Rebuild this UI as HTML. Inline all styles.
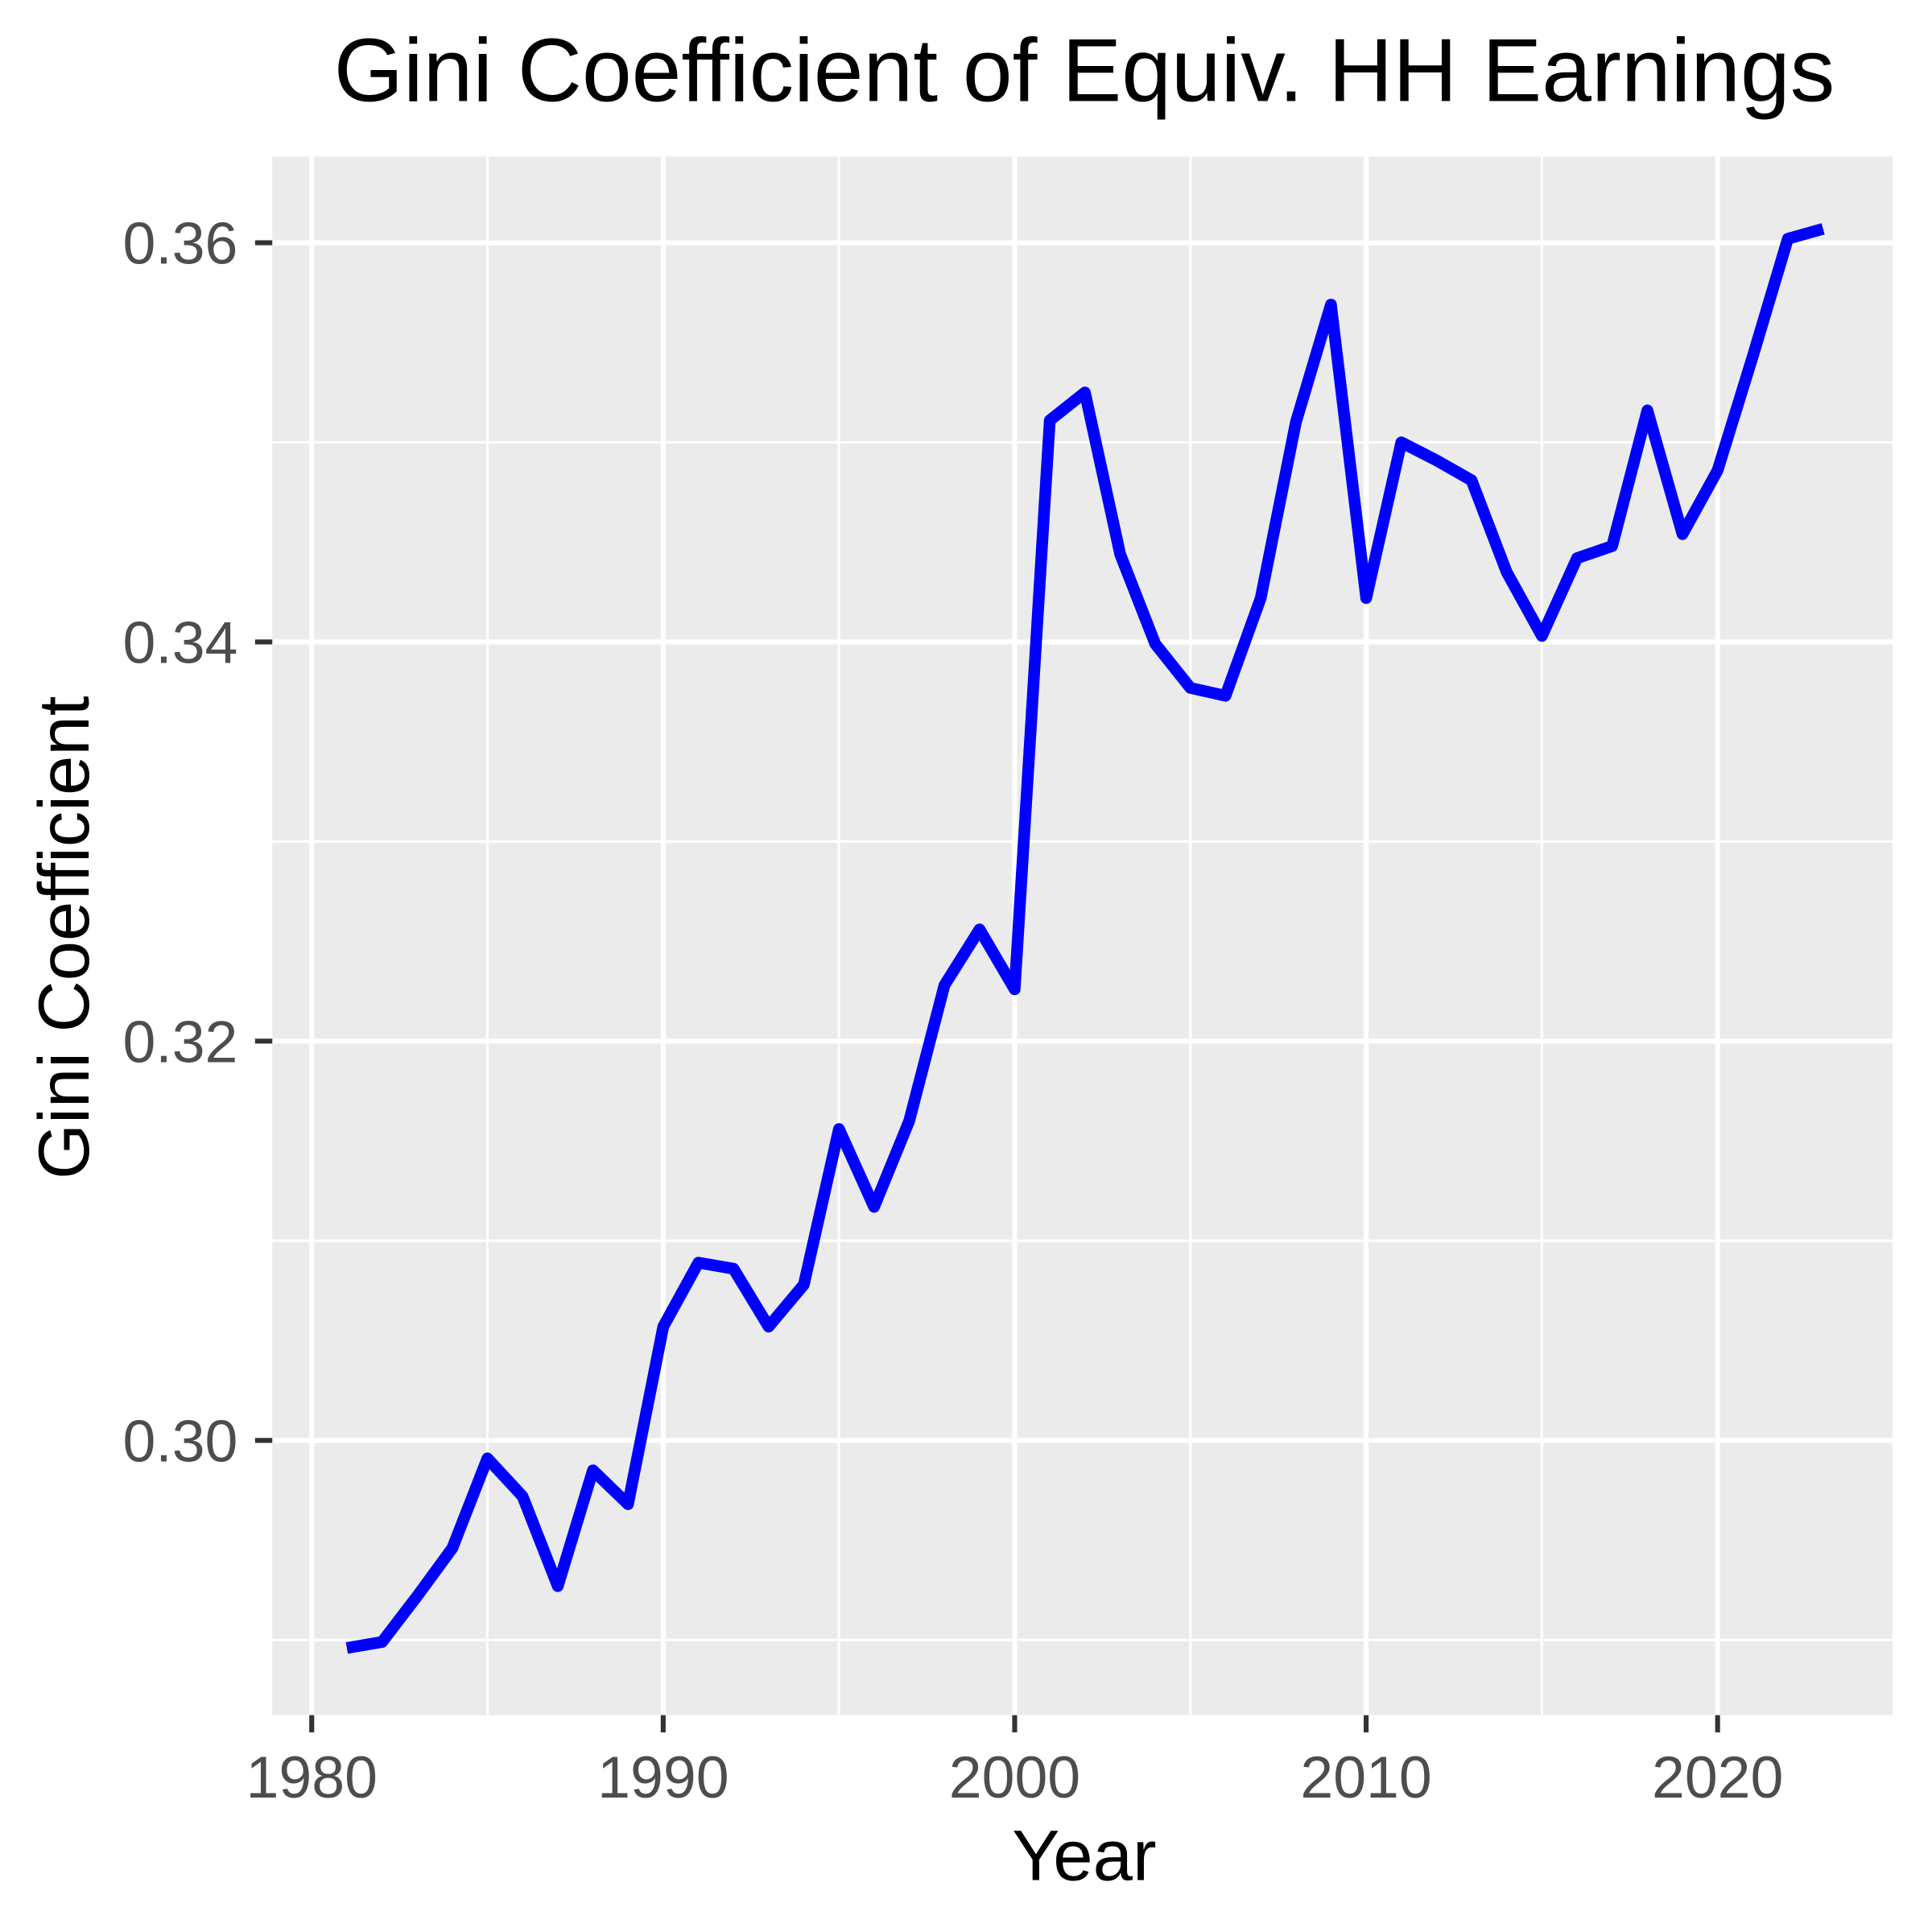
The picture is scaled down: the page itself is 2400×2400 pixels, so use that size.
<!DOCTYPE html>
<html><head><meta charset="utf-8"><style>html,body{margin:0;padding:0;background:#fff}svg{display:block}</style></head>
<body>
<svg id="chart" width="2400" height="2400" viewBox="0 0 1568 1568" xmlns="http://www.w3.org/2000/svg" font-family="Liberation Sans, sans-serif">
<rect x="0" y="0" width="1568" height="1568" fill="#fff"/>
<rect x="221" y="127" width="1315" height="1265" fill="#ebebeb"/>
<g id="grid"></g>
<g id="axes"></g>
<path id="line" fill="none" stroke="#0000ff" stroke-width="9.5" stroke-linejoin="round"/>
<text x="880" y="82" font-size="72.5" text-anchor="middle" fill="#000">Gini Coefficient of Equiv. HH Earnings</text>
<text x="880" y="1526" font-size="58" text-anchor="middle" fill="#000">Year</text>
<text x="72" y="761" font-size="58" text-anchor="middle" fill="#000" transform="rotate(-90 72 761)">Gini Coefficient</text>
</svg>
<script>
const years=[1981,1982,1983,1984,1985,1986,1987,1988,1989,1990,1991,1992,1993,1994,1995,1996,1997,1998,1999,2000,2001,2002,2003,2004,2005,2006,2007,2008,2009,2010,2011,2012,2013,2014,2015,2016,2017,2018,2019,2020,2021,2022,2023];
const gini=[0.2896,0.2899,0.2922,0.2946,0.2991,0.2972,0.2927,0.2985,0.2968,0.3057,0.3089,0.3086,0.3057,0.3078,0.3156,0.3117,0.3160,0.3228,0.3256,0.3226,0.3511,0.3525,0.3444,0.3399,0.3377,0.3373,0.3422,0.3510,0.3569,0.3422,0.3500,0.3491,0.3481,0.3435,0.3403,0.3442,0.3448,0.3516,0.3454,0.3486,0.3543,0.3602,0.3607];
const xTicks=[1980,1990,2000,2010,2020];
const yTicks=[0.30,0.32,0.34,0.36];
const yMinor=[0.29,0.31,0.33,0.35];
const xMinor=[1985,1995,2005,2015];
const NS="http://www.w3.org/2000/svg";
function sx(v){return 253+(v-1980)*(1394-253)/40;}
function sy(v){return 1169-(v-0.30)*(1169-197)/0.06;}
const grid=document.getElementById('grid'),axes=document.getElementById('axes');
function mk(tag,attrs,parent){const e=document.createElementNS(NS,tag);for(const k in attrs)e.setAttribute(k,attrs[k]);parent.appendChild(e);return e;}
yMinor.forEach(v=>{const l=mk('line',{x1:221,x2:1536,y1:sy(v),y2:sy(v),stroke:'#fff','stroke-width':2},grid);

});
xMinor.forEach(v=>{const l=mk('line',{x1:sx(v),x2:sx(v),y1:127,y2:1392,stroke:'#fff','stroke-width':2},grid);

});
yTicks.forEach(v=>{const y=sy(v);
const l=mk('line',{x1:221,x2:1536,y1:y,y2:y,stroke:'#fff','stroke-width':4},grid);


const t=mk('line',{x1:207,x2:221,y1:y,y2:y,stroke:'#333','stroke-width':4},axes);


const tx=mk('text',{x:193,y:y+17,'font-size':48,'text-anchor':'end',fill:'#4d4d4d'},axes);
tx.textContent=v.toFixed(2);

});
xTicks.forEach(v=>{const x=sx(v);
const l=mk('line',{x1:x,x2:x,y1:127,y2:1392,stroke:'#fff','stroke-width':4},grid);


const t=mk('line',{x1:x,x2:x,y1:1392,y2:1406,stroke:'#333','stroke-width':4},axes);


const tx=mk('text',{x:x,y:1459,'font-size':48,'text-anchor':'middle',fill:'#4d4d4d'},axes);
tx.textContent=v;

});
document.getElementById('line').setAttribute('d',years.map((y,i)=>(i?'L':'M')+sx(y).toFixed(1)+','+sy(gini[i]).toFixed(1)).join(''));
</script>
</body></html>
